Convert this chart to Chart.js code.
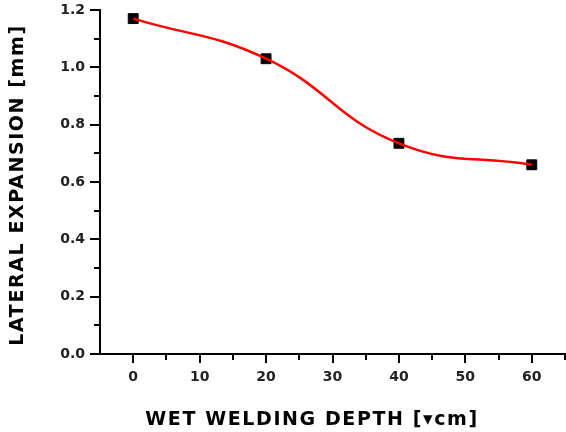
<!DOCTYPE html>
<html>
<head>
<meta charset="utf-8">
<script src="https://cdn.jsdelivr.net/npm/chart.js@4"></script>
<style>
  html, body { margin: 0; padding: 0; background: #fff; }
  #wrap { width: 566px; height: 432px; }
</style>
</head>
<body>
<div id="wrap"><canvas id="chart" width="566" height="432"></canvas></div>
<script>
// wet welding depth vs. lateral expansion
const depth = [0, 20, 40, 60];
const expansion = [1.17, 1.03, 0.735, 0.66];
const xTitle = 'WET WELDING DEPTH [\u25BEcm]';
const yTitle = 'LATERAL EXPANSION [mm]';

const points = depth.map((d, i) => ({ x: d, y: expansion[i] }));

// axis ticks (major + minor) and the two axis titles
const axisDecor = {
  id: 'axisDecor',
  afterDraw(chart) {
    const { ctx, scales: { x, y }, chartArea: a } = chart;
    ctx.save();
    ctx.strokeStyle = '#000';
    ctx.lineWidth = 2;
    ctx.beginPath();
    x.ticks.forEach(t => {
      if (t.value <= x.min) return;
      const px = Math.round(x.getPixelForValue(t.value));
      const len = t.value % 10 === 0 ? 9 : 6;
      ctx.moveTo(px, a.bottom);
      ctx.lineTo(px, a.bottom + len);
    });
    y.ticks.forEach(t => {
      const py = Math.round(y.getPixelForValue(t.value));
      const major = Math.abs(Math.round(t.value * 10) % 2) === 0;
      ctx.moveTo(a.left, py);
      ctx.lineTo(a.left - (major ? 10 : 6), py);
    });
    ctx.stroke();

    ctx.fillStyle = '#000';
    ctx.font = 'bold 19px "DejaVu Sans"';
    ctx.letterSpacing = '1.6px';
    ctx.textAlign = 'center';
    ctx.textBaseline = 'middle';
    ctx.fillText(xTitle, 312, 420);
    ctx.translate(18, 185);
    ctx.rotate(-Math.PI / 2);
    ctx.fillText(yTitle, 0, 0);
    ctx.restore();
  }
};

new Chart(document.getElementById('chart'), {
  type: 'scatter',
  data: {
    datasets: [
      {
        type: 'line',
        data: points,
        borderColor: '#ff0000',
        borderWidth: 2.5,
        tension: 0.45,
        pointRadius: 0,
        fill: false,
        order: 1
      },
      {
        data: points,
        pointStyle: 'rect',
        pointRadius: 7,
        pointBackgroundColor: '#000',
        pointBorderColor: '#000',
        pointBorderWidth: 1,
        order: 2
      }
    ]
  },
  options: {
    responsive: false,
    animation: false,
    layout: { autoPadding: false, padding: { top: 10, right: 1, left: 0, bottom: 0 } },
    plugins: { legend: { display: false }, tooltip: { enabled: false } },
    scales: {
      x: {
        type: 'linear',
        min: -5,
        max: 65,
        afterFit: s => { s.height = 78; s.paddingLeft = 0; s.paddingRight = 0; },
        border: { color: '#000', width: 2 },
        grid: { display: false, drawTicks: false },
        ticks: {
          stepSize: 5,
          padding: 15,
          color: '#222',
          font: { family: '"DejaVu Sans"', size: 14, weight: 'bold' },
          maxRotation: 0,
          autoSkip: false,
          callback: v => (v >= 0 && v <= 60 && v % 10 === 0 ? String(v) : '')
        }
      },
      y: {
        min: 0,
        max: 1.2,
        afterFit: s => { s.width = 100; s.paddingTop = 0; s.paddingBottom = 0; },
        border: { color: '#000', width: 2 },
        grid: { display: false, drawTicks: false },
        ticks: {
          stepSize: 0.1,
          padding: 15,
          color: '#222',
          font: { family: '"DejaVu Sans"', size: 14, weight: 'bold' },
          autoSkip: false,
          callback: v => (Math.round(v * 10) % 2 === 0 ? v.toFixed(1) : '')
        }
      }
    }
  },
  plugins: [axisDecor]
});
</script>
</body>
</html>
